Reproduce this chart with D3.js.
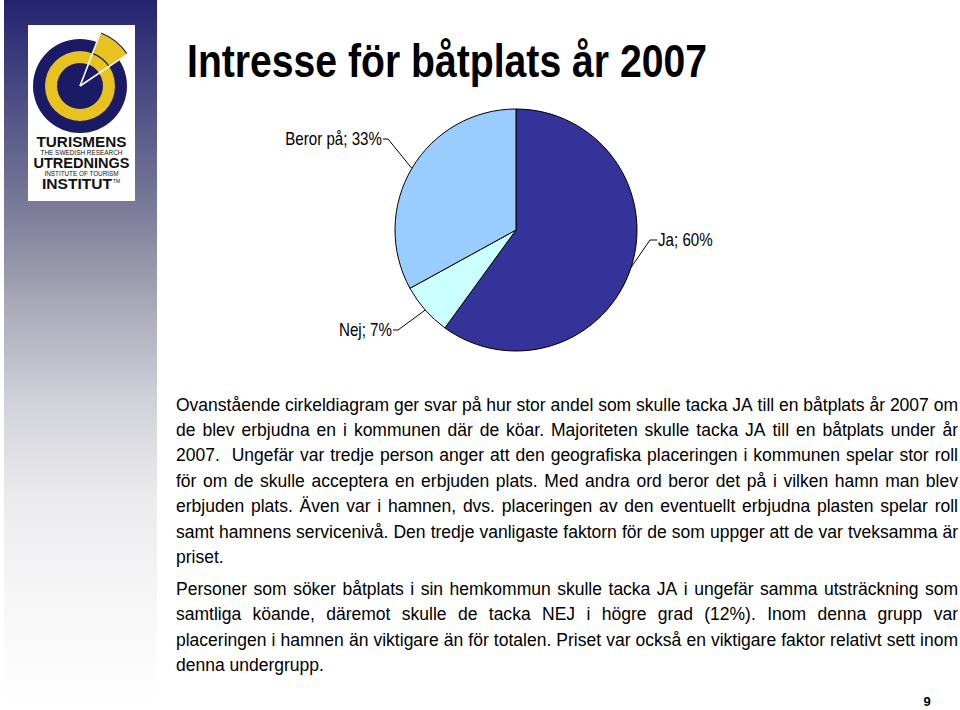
<!DOCTYPE html>
<html><head><meta charset="utf-8">
<script src="https://cdn.jsdelivr.net/npm/d3@7"></script>
<style>
html,body{margin:0;padding:0;background:#fff;}
svg{display:block;}
text{font-family:"Liberation Sans",Arial,Helvetica,sans-serif;}
</style></head>
<body>
<svg id="chart" width="960" height="710"></svg>
<script>
// ---------- data ----------
const categories = ["Ja", "Nej", "Beror på"];
const shares = [60, 7, 33];
const sliceColors = ["#333399", "#CCFFFF", "#99CCFF"];
const title = "Intresse för båtplats år 2007";
const paragraph1 = [
  "Ovanstående cirkeldiagram ger svar på hur stor andel som skulle tacka JA till en båtplats år 2007 om",
  "de blev erbjudna en i kommunen där de köar. Majoriteten skulle tacka JA till en båtplats under år",
  "2007.  Ungefär var tredje person anger att den geografiska placeringen i kommunen spelar stor roll",
  "för om de skulle acceptera en erbjuden plats. Med andra ord beror det på i vilken hamn man blev",
  "erbjuden plats. Även var i hamnen, dvs. placeringen av den eventuellt erbjudna plasten spelar roll",
  "samt hamnens servicenivå. Den tredje vanligaste faktorn för de som uppger att de var tveksamma är",
  "priset."
];
const paragraph2 = [
  "Personer som söker båtplats i sin hemkommun skulle tacka JA i ungefär samma utsträckning som",
  "samtliga köande, däremot skulle de tacka NEJ i högre grad (12%). Inom denna grupp var",
  "placeringen i hamnen än viktigare än för totalen. Priset var också en viktigare faktor relativt sett inom",
  "denna undergrupp."
];
const pageNumber = "9";

// ---------- layout ----------
const svg = d3.select("#chart");
const defs = svg.append("defs");
const grad = defs.append("linearGradient").attr("id","panelGrad").attr("x1",0).attr("y1",0).attr("x2",0).attr("y2",1);
[[0,"#232370"],[0.14,"#4d4d85"],[0.28,"#777797"],[0.42,"#a6a6b6"],[0.56,"#d0d0d8"],[0.7,"#ebebee"],[0.85,"#f7f7f8"],[1,"#ffffff"]]
  .forEach(([o,c])=>grad.append("stop").attr("offset",o).attr("stop-color",c));

svg.append("rect").attr("x",4).attr("y",0).attr("width",153).attr("height",710).attr("fill","url(#panelGrad)");

// logo
const logo = svg.append("g");
logo.append("rect").attr("x",28).attr("y",25).attr("width",107).attr("height",176).attr("fill","#ffffff");
const lc = logo.append("g").attr("transform","translate(80,86)");
const navy = "#1a1a66", yellow = "#e8c21e";
lc.append("circle").attr("r",47).attr("fill",navy);
lc.append("path").attr("d", d3.arc()({innerRadius:23, outerRadius:35, startAngle:0, endAngle:2*Math.PI})).attr("fill",yellow);
const a0 = 21*Math.PI/180, a1 = 56*Math.PI/180;
lc.append("path").attr("d", d3.arc()({innerRadius:35, outerRadius:57, startAngle:a0, endAngle:a1}))
  .attr("fill",yellow).attr("stroke",navy).attr("stroke-width",1.2);
lc.append("path").attr("d", d3.arc()({innerRadius:0, outerRadius:23, startAngle:a0, endAngle:a1})).attr("fill",navy);
[a0,a1].forEach(a=>lc.append("line").attr("x1",0).attr("y1",0)
  .attr("x2",58*Math.sin(a)).attr("y2",-58*Math.cos(a)).attr("stroke","#fff").attr("stroke-width",1.6));
const logoTexts = [
  ["TURISMENS",147,14.5,"bold",90],
  ["THE SWEDISH RESEARCH",155,7,"normal",82],
  ["UTREDNINGS",168,14.5,"bold",96],
  ["INSTITUTE OF TOURISM",176,6.5,"normal",74],
  ["INSTITUT",189,14.5,"bold",70]
];
logoTexts.forEach(([t,y,fs,fw,w])=>{
  logo.append("text").attr("x",t==="INSTITUT"?77:81.5).attr("y",y).attr("text-anchor","middle")
    .attr("font-size",fs).attr("font-weight",fw).attr("fill","#111")
    .attr("textLength",w).attr("lengthAdjust","spacingAndGlyphs").text(t);
});
logo.append("text").attr("x",113).attr("y",183).attr("font-size",5).attr("fill","#111").text("TM");

// title
svg.append("text").attr("x",187).attr("y",77).attr("font-size",46).attr("font-weight","bold")
  .attr("fill","#000").attr("textLength",520).attr("lengthAdjust","spacingAndGlyphs").text(title);

// ---------- measure compression factor from first body line ----------
const fsBody = 18.5;
const left = 176, right = 958, lineW = right-left;
const probe = svg.append("text").attr("font-size",fsBody).style("white-space","pre").text(paragraph1[0]);
const k = lineW / probe.node().getComputedTextLength();
probe.remove();
const kLabel = 0.865;

// ---------- pie ----------
const cx = 516, cy = 230, R = 121;
const pie = d3.pie().sort(null).value(d=>d)(shares);
const arc = d3.arc().innerRadius(0).outerRadius(R);
const pg = svg.append("g").attr("transform",`translate(${cx},${cy})`);
pg.selectAll("path").data(pie).join("path")
  .attr("d",arc).attr("fill",(d,i)=>sliceColors[i]).attr("stroke","#000").attr("stroke-width",1);

// label elbow placement (layout, relative to pie centre)
const labelElbow = {"Ja":[134,10], "Nej":[-118,100], "Beror på":[-128,-91]};
const edge = d3.arc().innerRadius(R).outerRadius(R);
pie.forEach((d,i)=>{
  const name = categories[i];
  const [ex,ey] = labelElbow[name];
  const [px,py] = edge.centroid(d);
  const right = ex > 0;
  const tx = ex + (right ? 7 : -5);
  pg.append("polyline").attr("points",`${px},${py} ${ex},${ey} ${tx},${ey}`)
    .attr("fill","none").attr("stroke","#000").attr("stroke-width",1);
  pg.append("text").attr("transform",`translate(${tx + (right?1:-1)},${ey+5.5}) scale(${kLabel},1)`)
    .attr("text-anchor", right ? "start" : "end").attr("font-size",17.5).attr("fill","#000")
    .text(`${name}; ${d.data}%`);
});

// ---------- body text ----------
function drawLine(str, y, justify){
  const g = svg.append("g").attr("transform",`translate(${left},${y}) scale(${k},1)`);
  if(!justify){
    g.append("text").attr("font-size",fsBody).attr("fill","#000").style("white-space","pre").text(str);
    return;
  }
  const words = str.split(" ");
  const nodes = words.map(w=>g.append("text").attr("font-size",fsBody).attr("fill","#000").text(w));
  const widths = nodes.map(n=>n.node().getComputedTextLength());
  const total = d3.sum(widths);
  const target = lineW / k;
  const gap = (target - total) / (words.length - 1);
  let x = 0;
  nodes.forEach((n,i)=>{ n.attr("x",x); x += widths[i] + gap; });
}
const base1 = 410.5, lh = 25.4;
paragraph1.forEach((s,i)=>drawLine(s, base1 + i*lh, i < paragraph1.length-1));
const base2 = 595;
paragraph2.forEach((s,i)=>drawLine(s, base2 + i*lh, i < paragraph2.length-1));

// page number
svg.append("text").attr("x",927).attr("y",706).attr("text-anchor","middle").attr("font-size",13)
  .attr("font-weight","bold").attr("fill","#000").text(pageNumber);
</script>
</body></html>
